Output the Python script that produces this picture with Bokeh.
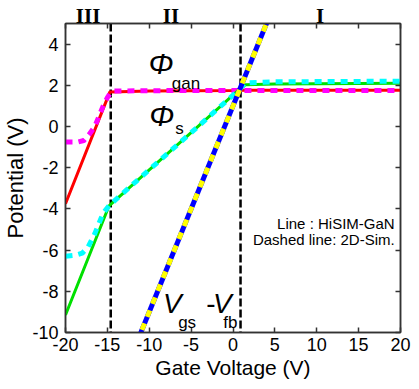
from bokeh.plotting import figure
from bokeh.models import LinearAxis, Span, Label, Range1d, FixedTicker, CustomJSTickFormatter
from bokeh.embed import file_html
from bokeh.resources import INLINE

# ---- data ----
x_ticks = [-20, -15, -10, -5, 0, 5, 10, 15, 20]
y_ticks = [-10, -8, -6, -4, -2, 0, 2, 4]
region_bounds = [-14.6, 0.9]
region_names = ["III", "II", "I"]
region_centers = [-17.3, -7.4, 10.4]

# Phi_gan : HiSIM (line) and 2D-Sim (dotted)
gan_hisim_x = [-20, -14.7, -10, 0, 0.9, 20]
gan_hisim_y = [-3.75, 1.68, 1.72, 1.75, 1.76, 1.76]
gan_sim_x = [-20, -18.5, -17.8, -17.2, -16.5, -15.5, -15.0, -14.6, -14.2, -10, 0, 20]
gan_sim_y = [-0.75, -0.75, -0.68, -0.4, 0.0, 1.0, 1.4, 1.65, 1.72, 1.74, 1.75, 1.75]

# Phi_s : HiSIM (line) and 2D-Sim (dotted)
s_hisim_x = [-20, -14.8, -10, -5, 0, 0.9, 1.5, 5, 20]
s_hisim_y = [-9.15, -3.85, -2.1, -0.3, 1.52, 1.85, 2.03, 2.06, 2.1]
s_sim_x = [-20, -18.8, -18.0, -17.3, -16.5, -15.5, -14.8, -14.0, -10, -5, 0, 0.9, 1.5, 5, 20]
s_sim_y = [-6.3, -6.25, -6.15, -5.85, -5.2, -4.2, -3.85, -3.55, -2.1, -0.3, 1.52, 1.85, 2.12, 2.17, 2.2]

# Vgs - Vfb
v_x = [-11.5, 4.5]
v_y = [-10.5, 5.5]

FONT = "Liberation Sans"
AX = "#333333"

p = figure(frame_width=335, frame_height=309, x_range=Range1d(-20, 20), y_range=Range1d(-10, 5),
           output_backend="svg", toolbar_location=None,
           min_border_left=64, min_border_right=18, min_border_top=22, min_border_bottom=50)
p.grid.visible = False
p.outline_line_color = AX
p.outline_line_width = 1.5
p.background_fill_color = "white"
p.border_fill_color = "white"

fmt = CustomJSTickFormatter(code="return String(tick)")
for ax in (p.xaxis[0], p.yaxis[0]):
    ax.formatter = fmt
    ax.major_label_text_font = FONT
    ax.major_label_text_font_size = "18px"
    ax.major_label_text_color = "black"
    ax.axis_label_text_font = FONT
    ax.axis_label_text_font_style = "normal"
    ax.axis_label_text_color = "black"
    ax.axis_line_color = AX
    ax.axis_line_width = 1.5
    ax.major_tick_line_color = AX
    ax.major_tick_line_width = 1.5
    ax.major_tick_in = 5
    ax.major_tick_out = 0
    ax.minor_tick_line_color = None

p.xaxis[0].ticker = FixedTicker(ticks=x_ticks)
p.yaxis[0].ticker = FixedTicker(ticks=y_ticks)
p.xaxis[0].axis_label = "Gate Voltage (V)"
p.yaxis[0].axis_label = "Potential (V)"
p.xaxis[0].axis_label_text_font_size = "21px"
p.yaxis[0].axis_label_text_font_size = "22px"
p.xaxis[0].major_label_standoff = 5
p.xaxis[0].axis_label_standoff = 2
p.yaxis[0].major_label_standoff = 7
p.yaxis[0].axis_label_standoff = 1

blank = CustomJSTickFormatter(code="return ''")
top = LinearAxis(ticker=FixedTicker(ticks=x_ticks), formatter=blank)
right = LinearAxis(ticker=FixedTicker(ticks=y_ticks), formatter=blank)
for ax in (top, right):
    ax.axis_line_color = AX
    ax.axis_line_width = 1.5
    ax.major_tick_line_color = AX
    ax.major_tick_line_width = 1.5
    ax.major_tick_in = 5
    ax.major_tick_out = 0
    ax.minor_tick_line_color = None
    ax.major_label_text_font_size = "0px"
    ax.major_label_standoff = 0
p.add_layout(top, "above")
p.add_layout(right, "right")

# region names as a label-only top axis
names_axis = LinearAxis(ticker=FixedTicker(ticks=region_centers),
                        formatter=CustomJSTickFormatter(args=dict(names=region_names),
                                                        code="return names[index]"))
names_axis.axis_line_color = None
names_axis.major_tick_line_color = None
names_axis.minor_tick_line_color = None
names_axis.major_label_text_font = "Liberation Serif"
names_axis.major_label_text_font_style = "bold"
names_axis.major_label_text_font_size = "21px"
names_axis.major_label_text_color = "black"
names_axis.major_label_standoff = -10
p.add_layout(names_axis, "above")

# region boundary lines
for b in region_bounds:
    p.add_layout(Span(location=b, dimension="height", line_color="black",
                      line_width=2.5, line_dash="8 3", level="underlay"))

# curves
p.line(gan_hisim_x, gan_hisim_y, line_color="#ff0000", line_width=3)
p.line(gan_sim_x, gan_sim_y, line_color="#ff00ff", line_width=5, line_dash="7 6")
p.line(s_hisim_x, s_hisim_y, line_color="#00e000", line_width=3)
p.line(s_sim_x, s_sim_y, line_color="#00ffff", line_width=5, line_dash="7 6")
p.line(v_x, v_y, line_color="#0000ff", line_width=5)
p.line(v_x, v_y, line_color="#ffff00", line_width=5, line_dash="7 7")

def lab(x, y, t, size, style="italic", align="left"):
    p.add_layout(Label(x=x, y=y, text=t, text_font=FONT, text_font_style=style,
                       text_font_size=size, text_align=align,
                       text_baseline="alphabetic", text_color="black"))

lab(-10.1, 3.08, "\u03a6", "30px")
lab(-7.3, 2.08, "gan", "17px", "normal")
lab(-10.0, 0.52, "\u03a6", "30px")
lab(-6.9, -0.08, "s", "17px", "normal")
lab(-8.35, -8.6, "V", "28px")
lab(-6.55, -9.5, "gs", "17px", "normal")
lab(-3.2, -8.6, "-", "28px", "normal")
lab(-2.4, -8.6, "V", "28px")
lab(-1.15, -9.5, "fb", "17px", "normal")

lab(19.3, -4.72, "Line : HiSIM-GaN", "15px", "normal", "right")
lab(19.3, -5.5, "Dashed line: 2D-Sim.", "15px", "normal", "right")

open("out.html", "w").write(file_html(p, INLINE))
